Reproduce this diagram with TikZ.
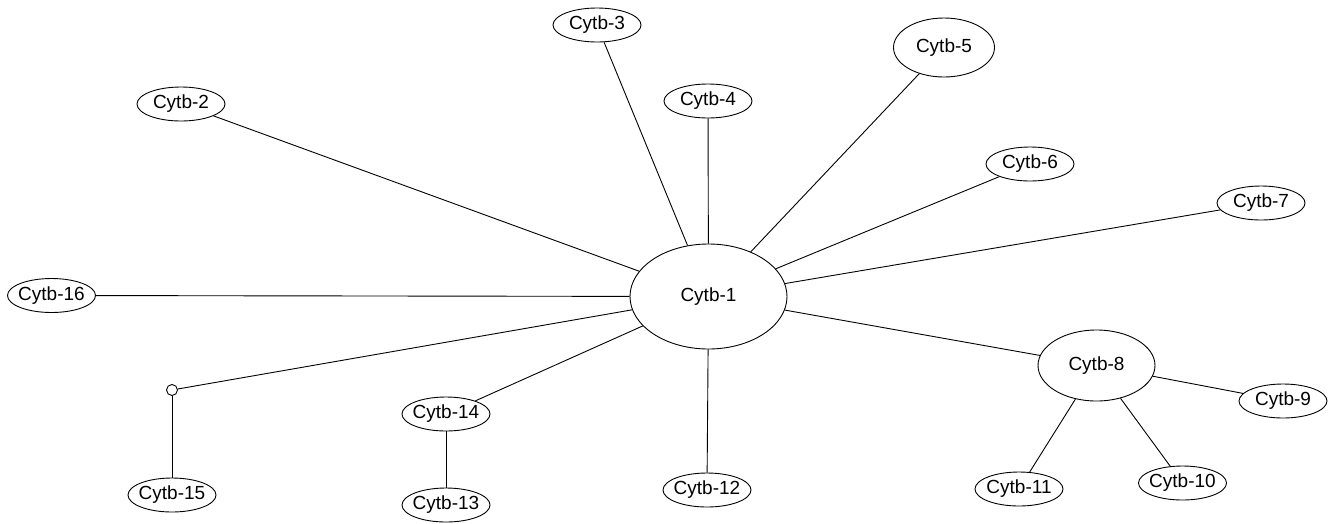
\documentclass[tikz,border=0pt]{standalone}
\usepackage{fontspec}
\setmainfont{Liberation Sans}
\usetikzlibrary{shapes.geometric}
\begin{document}
\begin{tikzpicture}[x=1pt,y=-1pt,
  nd/.style={draw,ellipse,line width=0.9pt,inner xsep=-6pt,inner ysep=0pt,minimum width=88pt,minimum height=34pt,font=\fontsize{19}{22}\selectfont},
  edge/.style={line width=0.9pt},
  junction/.style={draw,circle,line width=0.9pt,inner sep=0pt,minimum size=11pt,fill=white}]
\useasboundingbox (0,0) rectangle (1331,523);
\node[nd,minimum width=157pt,minimum height=105pt] (c1) at (708.5,296.5) {Cytb-1};
\node[nd] (c2) at (181,104) {Cytb-2};
\node[nd] (c3) at (597,25) {Cytb-3};
\node[nd] (c4) at (708,101) {Cytb-4};
\node[nd,minimum width=101pt,minimum height=59pt] (c5) at (944,47.5) {Cytb-5};
\node[nd] (c6) at (1030,164) {Cytb-6};
\node[nd] (c7) at (1261,203) {Cytb-7};
\node[nd,minimum width=117pt,minimum height=71pt] (c8) at (1096.5,365.5) {Cytb-8};
\node[nd] (c9) at (1283,401) {Cytb-9};
\node[nd] (c10) at (1182.5,483) {Cytb-10};
\node[nd] (c11) at (1019,489) {Cytb-11};
\node[nd] (c12) at (707,490) {Cytb-12};
\node[nd] (c13) at (446,505) {Cytb-13};
\node[nd] (c14) at (446,414) {Cytb-14};
\node[nd] (c15) at (172,495) {Cytb-15};
\node[nd] (c16) at (51.5,295.5) {Cytb-16};
\node[junction] (j) at (172,390) {};
\foreach \t in {c2,c3,c4,c5,c6,c7,c8,c12,c14,c16,j}
  \draw[edge] (c1) -- (\t);
\draw[edge] (j) -- (c15);
\draw[edge] (c14) -- (c13);
\draw[edge] (c8) -- (c9);
\draw[edge] (c8) -- (c10);
\draw[edge] (c8) -- (c11);
\end{tikzpicture}
\end{document}
